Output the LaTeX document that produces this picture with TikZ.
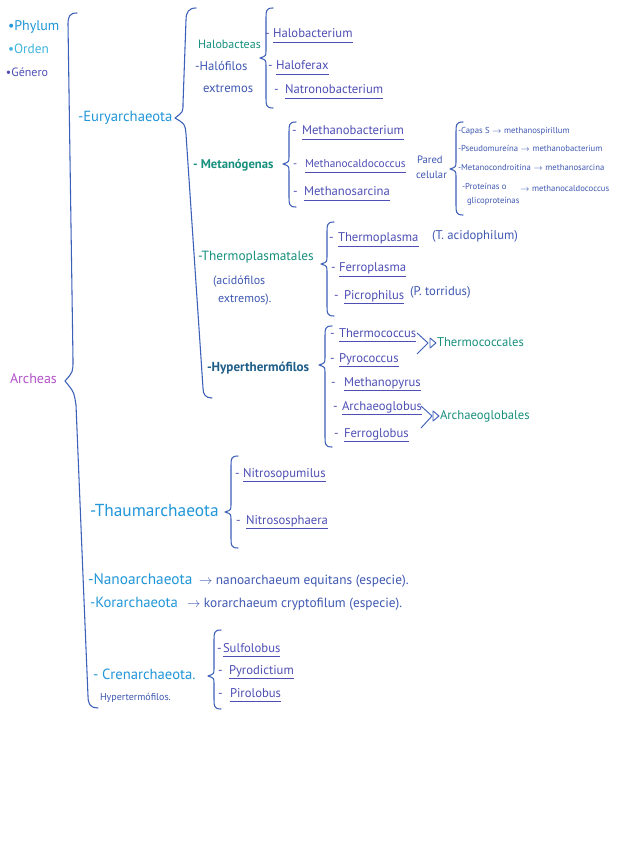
\documentclass[tikz,border=0pt]{standalone}
\usepackage{fontspec}
\setmainfont{PT Sans}
\definecolor{cPhy}{HTML}{2196D9}
\definecolor{cPhyL}{HTML}{3FB4E0}
\definecolor{cOrd}{HTML}{18907E}
\definecolor{cGen}{HTML}{4E4FB5}
\definecolor{cBr}{HTML}{3C5FB8}
\definecolor{cTxt}{HTML}{3F58B2}
\definecolor{cHyp}{HTML}{1E5E88}
\definecolor{cArc}{HTML}{B352C8}
\newcommand\fs[1]{\fontsize{#1}{#1}\selectfont}
\newcommand\brc[4]{%
  \draw[brace] (#1+7,#2) .. controls (#1,#2) and (#1,#2+3) .. (#1,#2+10) -- (#1,#3-8)
    .. controls (#1,#3-2) .. (#1-6,#3) .. controls (#1,#3+2) .. (#1,#3+8) -- (#1,#4-10)
    .. controls (#1,#4-3) and (#1,#4) .. (#1+7,#4);}
\newcommand\gnode[6][\fs{9.5}]{%
  \node[gen,font=#1] (#2d) at (#3,#5) {-};
  \node[gen,font=#1] (#2) at (#4,#5) {#6};
  \draw[ul] ([yshift=-3.2pt]#2.base west) -- ([yshift=-3.2pt]#2.base east);}
\begin{document}
\begin{tikzpicture}[x=0.75pt,y=-0.75pt,
  lab/.style={anchor=base west,inner sep=0pt,outer sep=0pt},
  gen/.style={lab,text=cGen,font=\fs{9.5}},
  ul/.style={draw=cGen,line width=0.6pt},
  brace/.style={draw=cBr,line width=0.8pt,line cap=round,line join=round},
  arr/.style={draw=cBr,line width=0.7pt,line join=round}]
\useasboundingbox[fill=white] (0,0) rectangle (617,848);
% legend
\node[lab,text=cPhy,font=\fs{10.5}] (lp) at (8,31) {•Phylum};
\node[lab,text=cPhyL,font=\fs{10}] (lo) at (8,54) {•Orden};
\node[lab,text=cGen,font=\fs{9}] (lg) at (6,77) {•Género};
% root
\node[lab,text=cArc,font=\fs{10.5}] (arch) at (10,383) {Archeas};
\draw[brace] (77,13) .. controls (70,13) and (68,16) .. (68,24) -- (73,360)
  .. controls (73,372) .. (65,381) .. controls (74,392) .. (76,405) -- (84,600)
  -- (88,696) .. controls (88,705) and (91,708) .. (98,708);
% Euryarchaeota
\node[lab,text=cPhy,font=\fs{11}] (eury) at (78,122) {-Euryarchaeota};
\draw[brace] (196,8) .. controls (189,8) and (186,12) .. (186,20) -- (183,104)
  .. controls (183,112) .. (175,118) .. controls (185,124) .. (186,134) -- (203,388)
  .. controls (203,395) and (206,398) .. (212,398);
% Halobacteas
\node[lab,text=cOrd,font=\fs{9}] (halo) at (198,49) {Halobacteas};
\node[lab,text=cTxt,font=\fs{9.5}] (halo2) at (195,71) {-Halófilos};
\node[lab,text=cTxt,font=\fs{9.5}] (halo3) at (203,93) {extremos};
\brc{266}{8}{58}{108}
\gnode{g1}{265}{273}{38}{Halobacterium}
\gnode{g2}{268}{276}{70}{Haloferax}
\gnode{g3}{274}{285}{94}{Natronobacterium}
% Metanogenas
\node[lab,text=cOrd,font=\fs{9.5}\bfseries] (meta) at (193,169) {- Metanógenas};
\brc{289}{122}{164}{207}
\gnode{g4}{292}{302}{135}{Methanobacterium}
\gnode[\fs{8.5}]{g5}{293}{305}{168}{Methanocaldococcus}
\gnode{g6}{293}{304}{196}{Methanosarcina}
\node[lab,text=cTxt,font=\fs{8}] (pc1) at (417,164) {Pared};
\node[lab,text=cTxt,font=\fs{8}] (pc2) at (416,179) {celular};
\brc{456}{122}{169}{215}
\node[lab,text=cTxt,font=\fs{6.5}] (w1) at (458,134) {-Capas S $\rightarrow$ methanospirillum};
\node[lab,text=cTxt,font=\fs{6.5}] (w2) at (458,152) {-Pseudomureína $\rightarrow$ methanobacterium};
\node[lab,text=cTxt,font=\fs{6.5}] (w3) at (458,171) {-Metanocondroitina $\rightarrow$ methanosarcina};
\node[lab,text=cTxt,font=\fs{6.5}] (w4) at (462,190) {-Proteínas o};
\node[lab,text=cTxt,font=\fs{6.5}] (w4b) at (520,192) {$\rightarrow$ methanocaldococcus};
\node[lab,text=cTxt,font=\fs{6.5}] (w4c) at (467,204) {glicoproteínas};
% Thermoplasmatales
\node[lab,text=cOrd,font=\fs{10}] (tp) at (198,261) {-Thermoplasmatales};
\node[lab,text=cTxt,font=\fs{9}] (tp2) at (213,285) {(acidófilos};
\node[lab,text=cTxt,font=\fs{9}] (tp3) at (218,302) {extremos).};
\brc{327}{222}{264}{316}
\gnode{g7}{329}{338}{242}{Thermoplasma}
\node[gen,text=cTxt] (g7s) at (432,240) {(T. acidophilum)};
\gnode{g8}{331}{339}{272}{Ferroplasma}
\gnode{g9}{334}{344}{299}{Picrophilus}
\node[gen,text=cTxt] (g9s) at (410,296) {(P. torridus)};
% Hyperthermofilos
\node[lab,text=cHyp,font=\fs{9.8}\bfseries] (hyp) at (207,371) {-Hyperthermófilos};
\brc{325}{326}{365}{447}
\gnode{g10}{330}{339}{337}{Thermococcus}
\gnode{g11}{330}{339}{362}{Pyrococcus}
\gnode{g12}{331}{344}{386}{Methanopyrus}
\gnode{g13}{333}{342}{410}{Archaeoglobus}
\gnode{g14}{334}{344}{437}{Ferroglobus}
\coordinate (c1a) at (417,333); \coordinate (c1b) at (428,343); \coordinate (c1c) at (417,354);
\draw[arr] (c1a) -- (c1b) -- (c1c);
\draw[arr] (430,338) -- (436,343) -- (430,348) -- cycle;
\node[lab,text=cOrd,font=\fs{9.5}] (tco) at (437,346) {Thermococcales};
\coordinate (c2a) at (421,406); \coordinate (c2b) at (432,416); \coordinate (c2c) at (421,428);
\draw[arr] (c2a) -- (c2b) -- (c2c);
\draw[arr] (433,411) -- (439,416) -- (433,421) -- cycle;
\node[lab,text=cOrd,font=\fs{9.5}] (arg) at (440,419) {Archaeoglobales};
% Thaumarchaeota
\node[lab,text=cPhy,font=\fs{13}] (thau) at (90,516) {-Thaumarchaeota};
\brc{231}{456}{512}{548}
\gnode{g15}{235}{243}{477}{Nitrosopumilus}
\gnode{g16}{236}{246}{524}{Nitrososphaera}
% Nano / Kor
\node[lab,text=cPhy,font=\fs{11.5}] (nano) at (88,584) {-Nanoarchaeota};
\node[lab,text=cTxt,font=\fs{10}] (nano2) at (199,584) {$\rightarrow$ nanoarchaeum equitans (especie).};
\node[lab,text=cPhy,font=\fs{11}] (kor) at (90,607) {-Korarchaeota};
\node[lab,text=cTxt,font=\fs{10}] (kor2) at (187,607) {$\rightarrow$ korarchaeum cryptofilum (especie).};
% Crenarchaeota
\node[lab,text=cPhy,font=\fs{11}] (cren) at (93,679) {- Crenarchaeota.};
\node[lab,text=cTxt,font=\fs{7.5}] (cren2) at (100,700) {Hypertermófilos.};
\brc{214}{630}{676}{709}
\gnode{g17}{217}{223}{652}{Sulfolobus}
\gnode{g18}{218}{229}{674}{Pyrodictium}
\gnode{g19}{218}{230}{697}{Pirolobus}
\end{tikzpicture}
\end{document}
